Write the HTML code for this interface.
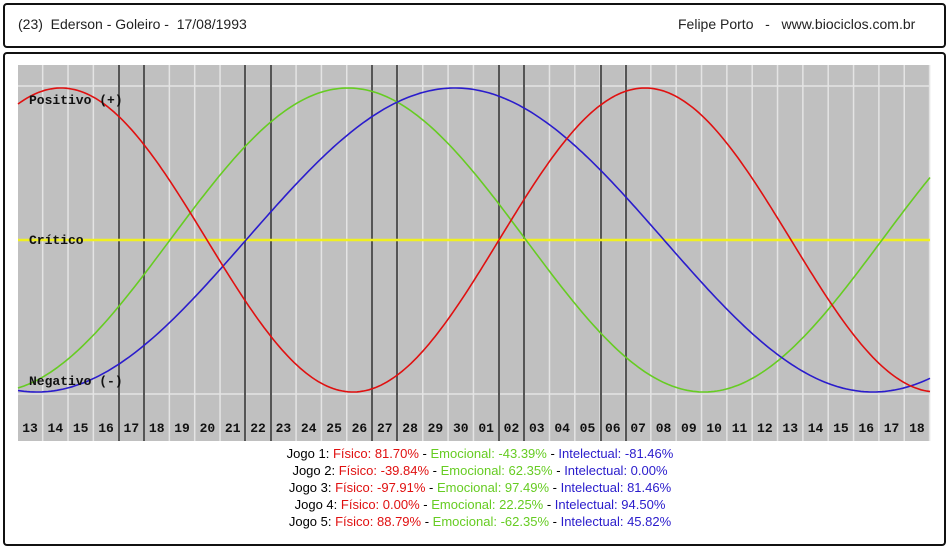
<!DOCTYPE html>
<html><head><meta charset="utf-8"><style>
body{margin:0;width:949px;height:548px;background:#fff;position:relative;overflow:hidden;font-family:"Liberation Sans",sans-serif}
.box{position:absolute;border:2px solid #111;border-radius:4px;box-sizing:border-box}
.hd{position:absolute;top:16px;font-size:14px;color:#222}
.info{position:absolute;left:0;width:960px;text-align:center;font-size:13px;line-height:17px;top:445px}
.r{color:#e01010}.g{color:#66cc22}.b{color:#2a1ccc}
</style></head><body>
<div class="box" style="left:3px;top:3px;width:943px;height:45px"></div>
<div class="hd" style="left:18px">(23)&nbsp; Ederson - Goleiro - &nbsp;17/08/1993</div>
<div class="hd" style="left:678px">Felipe Porto &nbsp; - &nbsp; www.biociclos.com.br</div>
<div class="box" style="left:3px;top:52px;width:943px;height:494px"></div>
<svg id="s" width="949" height="548" style="position:absolute;left:0;top:0"></svg>
<div class="info">
<div>Jogo 1: <span class="r">Físico: 81.70%</span> - <span class="g">Emocional: -43.39%</span> - <span class="b">Intelectual: -81.46%</span></div>
<div>Jogo 2: <span class="r">Físico: -39.84%</span> - <span class="g">Emocional: 62.35%</span> - <span class="b">Intelectual: 0.00%</span></div>
<div>Jogo 3: <span class="r">Físico: -97.91%</span> - <span class="g">Emocional: 97.49%</span> - <span class="b">Intelectual: 81.46%</span></div>
<div>Jogo 4: <span class="r">Físico: 0.00%</span> - <span class="g">Emocional: 22.25%</span> - <span class="b">Intelectual: 94.50%</span></div>
<div>Jogo 5: <span class="r">Físico: 88.79%</span> - <span class="g">Emocional: -62.35%</span> - <span class="b">Intelectual: 45.82%</span></div>
</div>
<script>
var s=document.getElementById('s'),h='';
var L=18,R=930,T=65,B=441;
h+='<rect x="'+L+'" y="'+T+'" width="'+(R-L)+'" height="'+(B-T)+'" fill="#c0c0c0"/>';
var d=25.34;
for(var k=0;k<36;k++){var x=30+d*k+d/2;if(x<R)h+='<line x1="'+x+'" y1="'+T+'" x2="'+x+'" y2="'+B+'" stroke="#e4e4e4" stroke-width="1.5"/>';}
h+='<line x1="'+L+'" y1="86" x2="'+R+'" y2="86" stroke="#e4e4e4" stroke-width="1.5"/>';
h+='<line x1="'+L+'" y1="394" x2="'+R+'" y2="394" stroke="#e4e4e4" stroke-width="1.5"/>';
[119,144,245,271,372,397,499,524,601,626].forEach(function(x){h+='<line x1="'+x+'" y1="'+T+'" x2="'+x+'" y2="'+B+'" stroke="#555" stroke-width="2"/>';});
h+='<line x1="'+L+'" y1="240" x2="'+R+'" y2="240" stroke="#f0f020" stroke-width="2.5"/>';
function cur(pk,per,col){var p='';for(var x=L;x<=R;x+=3){var y=240-152*Math.cos(2*Math.PI*(x-pk)/per);p+=x+','+y.toFixed(1)+' ';}return '<polyline points="'+p+'" fill="none" stroke="'+col+'" stroke-width="1.6"/>';}
h+=cur(348,712,'#66cc22');h+=cur(455,836,'#2a1ccc');h+=cur(645,584,'#e01010');
var mono='font-family="Liberation Mono,monospace" font-weight="bold" font-size="13" fill="#111"';
h+='<text x="29" y="104" '+mono+'>Positivo (+)</text>';
h+='<text x="29" y="244" '+mono+'>Crítico</text>';
h+='<text x="29" y="385" '+mono+'>Negativo (-)</text>';
var labs=[13,14,15,16,17,18,19,20,21,22,23,24,25,26,27,28,29,30,'01','02','03','04','05','06','07','08','09',10,11,12,13,14,15,16,17,18];
for(var k=0;k<36;k++)h+='<text x="'+(30+d*k)+'" y="432" text-anchor="middle" '+mono+'>'+labs[k]+'</text>';
s.innerHTML=h;
</script>
</body></html>
